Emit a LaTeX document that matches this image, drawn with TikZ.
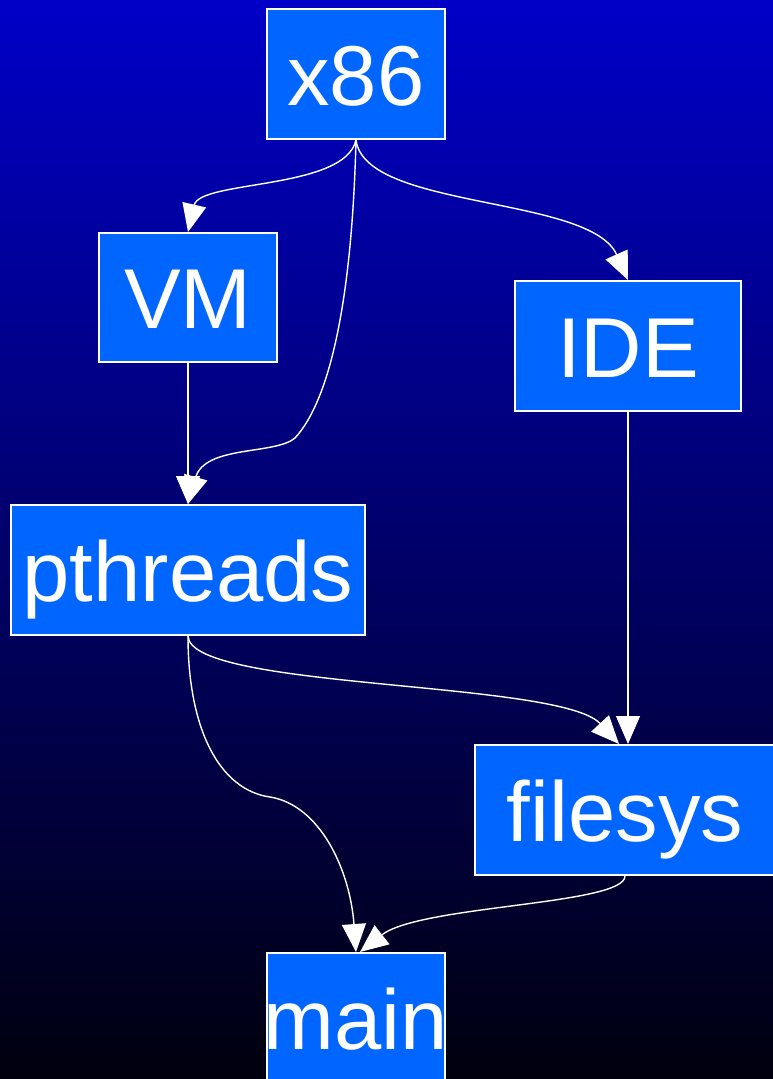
\documentclass[tikz,border=0pt]{standalone}
\usepackage{fontspec}
\setmainfont{Liberation Sans}
\usetikzlibrary{arrows.meta}
\definecolor{boxblue}{HTML}{0066FF}
\definecolor{bgtop}{RGB}{0,0,200}
\definecolor{bgbot}{RGB}{0,0,14}
\begin{document}
\begin{tikzpicture}[x=1pt,y=-1pt,
  mod/.style={draw=white, line width=2pt, fill=boxblue, text=white, inner sep=0pt,
    minimum height=130pt, text height=62pt, text depth=0pt,
    font=\fontsize{85}{90}\selectfont},
  dep/.style={draw=white, line width=1.4pt,
    -{Triangle[length=28pt,width=24pt,fill=white]}}]
\useasboundingbox (0,0) rectangle (773,1079);
\shade[top color=bgtop, bottom color=bgbot] (0,0) rectangle (773,1079);

\node[mod, minimum width=178pt] (x86) at (356,74) {x86};
\node[mod, minimum width=178pt, minimum height=129pt] (vm) at (188,297.5) {VM};
\node[mod, minimum width=226pt] (ide) at (628,346) {IDE};
\node[mod, minimum width=354pt] (pth) at (188,570) {pthreads};
\node[mod, minimum width=300pt] (fs) at (625,810) {filesys};
\node[mod, minimum width=178pt] (main) at (356,1018) {\makebox[0pt]{main}};

\draw[dep] (x86.south) .. controls (345,190) and (200,180) .. (vm.north);
\draw[dep] (x86.south) .. controls (352,300) and (330,400) .. (295,438)
  .. controls (275,455) and (205,445) .. (pth.north);
\draw[dep] (x86.south) .. controls (365,210) and (590,195) .. (ide.north);
\draw[dep] (vm.south) -- (pth.north);
\draw[dep] (ide.south) -- (fs.north -| ide.south);
\draw[dep] (pth.south) .. controls (190,690) and (560,680) .. ([xshift=-6pt]fs.north);
\draw[dep] (pth.south) .. controls (188,730) and (220,790) .. (270,797)
  .. controls (320,805) and (350,870) .. (main.north);
\draw[dep] (fs.south) .. controls (625,905) and (420,905) .. ([xshift=4pt]main.north);
\end{tikzpicture}
\end{document}
